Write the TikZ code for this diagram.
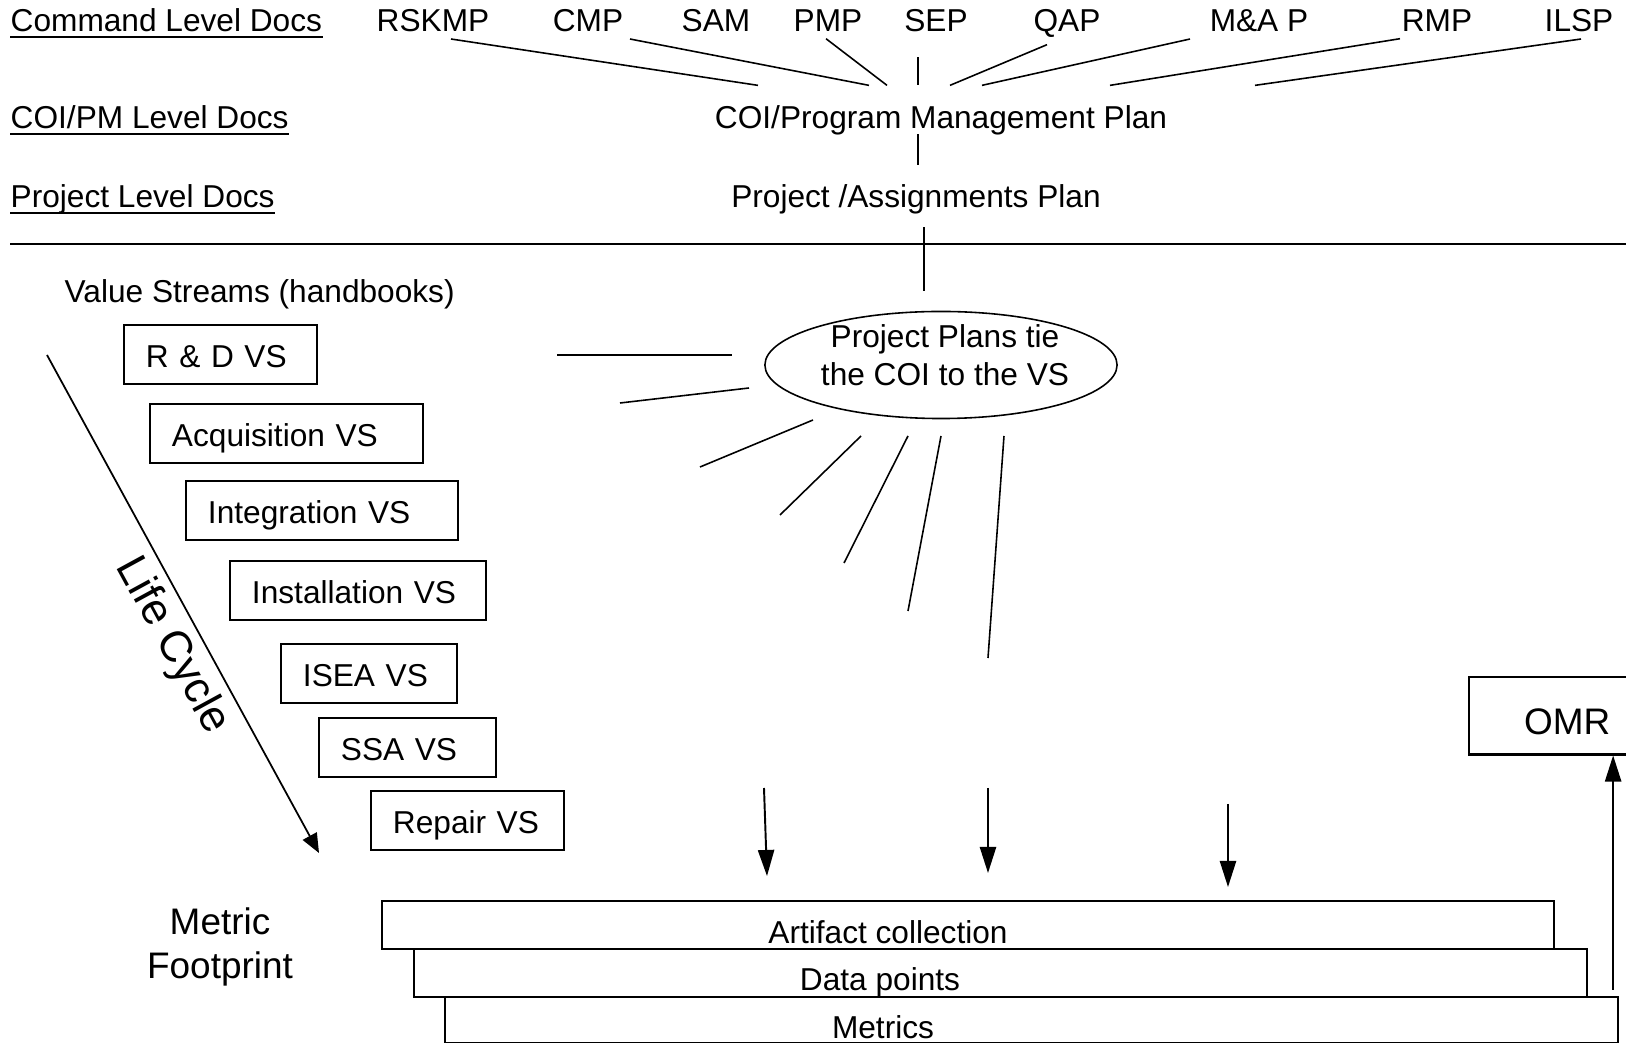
\documentclass[tikz,border=0pt]{standalone}
\usepackage{fontspec}
\setmainfont{Liberation Sans}
\usetikzlibrary{shapes.geometric,arrows.meta}
\tikzset{
    doc-label/.style = {font=\fontsize{9}{10.8}\selectfont, anchor=base, inner sep=0pt},
    level-label/.style = {doc-label, anchor=base west},
    big-label/.style = {font=\fontsize{10.5}{12.5}\selectfont, inner sep=0pt},
    vs-box/.style = {draw, line width=0.55pt, anchor=north west, minimum height=0.59cm, inner xsep=0.22cm, inner ysep=0pt, text height=0.716em, text depth=0pt, align=left, font=\fontsize{9}{10.8}\selectfont},
    stack-box/.style = {draw, line width=0.7pt, anchor=north west, inner sep=0pt},
    link/.style = {line width=0.45pt},
    flow/.style = {line width=0.55pt, -{Triangle[length=7.4pt,width=4.6pt]}},
}
\begin{document}
\begin{tikzpicture}[x=0.01cm, y=-0.01cm]
\useasboundingbox (0,0) rectangle (1626,1043);

% document levels
\node[level-label] (cmd-docs) at (10,32) {Command Level Docs};
\node[level-label] (coi-docs) at (10,129) {COI/PM Level Docs};
\node[level-label] (proj-docs) at (10,208) {Project Level Docs};
\foreach \n in {cmd-docs, coi-docs, proj-docs}
    \draw[line width=0.7pt] ([yshift=-1.4pt]\n.base west) -- ([yshift=-1.4pt]\n.base east);

\foreach \name/\x/\txt in {rskmp/433/RSKMP, cmp/588/CMP, sam/716/SAM, pmp/828/PMP, sep/936/SEP, qap/1067/QAP, ma/1259/M\&A P, rmp/1437/RMP, ilsp/1579/ILSP}
    \node[doc-label] (\name) at (\x,32) {\txt};

\node[doc-label] (coi) at (941,129) {COI/Program Management Plan};
\node[doc-label] (proj) at (916,208) {Project /Assignments Plan};

\foreach \name/\sx/\sy/\ex in {rskmp/18/6/-183, cmp/42/6/-72, pmp/-2/6/-54, sep/-18/24/-23, qap/-20/6/9, ma/-69/6/41, rmp/-37/6/169, ilsp/2/6/314}
    \draw[link] ([shift={(\sx,\sy)}]\name.south) -- ([shift={(\ex,-20)}]coi.north);
\draw[link] ([shift={(-23,-2)}]coi.south) -- ([shift={(2,-19)}]proj.north);

\draw[line width=0.6pt] (10,244) -- (1626,244);

% value streams
\node[level-label] (vs-title) at (64,303) {Value Streams (handbooks)};
\foreach \name/\x/\y/\w/\txt in {rd/123/324/1.49/R \& D VS, acq/149/403/2.29/Acquisition VS, intg/185/480/2.28/Integration VS, inst/229/560/2.12/Installation VS, isea/280/643/1.32/ISEA VS, ssa/318/717/1.33/SSA VS, rep/370/790/1.49/Repair VS}
    \node[vs-box, text width=\w cm] (\name) at (\x,\y) {\txt};

\node[draw, link, ellipse, minimum width=3.52cm, minimum height=1.07cm, inner sep=0pt] (tie) at (941,365) {};
\node[doc-label, anchor=center, align=center] (tie-text) at (945,355) {Project Plans tie\\the COI to the VS};
\draw[link] ([shift={(8,12)}]proj.south) -- ([shift={(-17,-20)}]tie.north);

\foreach \ax/\ay/\bx/\by in {557/355/732/355, 620/403/749/388, 700/467/813/420, 780/515/861/436, 844/563/908/436, 908/611/941/436, 988/658/1004/436}
    \draw[link] (\ax,\ay) -- (\bx,\by);

% life cycle
\coordinate (lc-start) at (47,355);
\coordinate (lc-end) at (319,853);
\draw[line width=0.5pt, -{Triangle[length=5.5pt,width=4.5pt]}] (lc-start) -- (lc-end);
\node[big-label, font=\fontsize{12.5}{15}\selectfont, rotate=-61.4] (lc-text) at (172,646) {Life Cycle};

% metric footprint
\node[big-label, align=center] (footprint) at (220,947) {Metric\\Footprint};
\node[stack-box, minimum width=11.71cm, minimum height=0.48cm] (art) at (381,900) {};
\node[stack-box, minimum width=11.72cm, minimum height=0.48cm] (dat) at (413,948) {};
\node[stack-box, minimum width=11.72cm, minimum height=0.46cm] (met) at (444,996) {};
\node[doc-label] (art-text) at (888,944) {Artifact collection};
\node[doc-label] (dat-text) at (880,991) {Data points};
\node[doc-label] (met-text) at (883,1039) {Metrics};

\foreach \ax/\ay/\bx/\by in {764/788/767/876, 988/788/988/873, 1228/804/1228/887}
    \draw[flow] (\ax,\ay) -- (\bx,\by);

\node[stack-box, big-label, minimum width=1.96cm, minimum height=0.77cm, text height={0.716em+0.12cm}, text depth=0pt] (omr) at (1468,676) {OMR};
\coordinate (omr-feed) at ([shift={(-6,-6)}]met.north east);
\draw[flow] (omr-feed) -- (omr-feed |- omr.south);
\end{tikzpicture}
\end{document}
